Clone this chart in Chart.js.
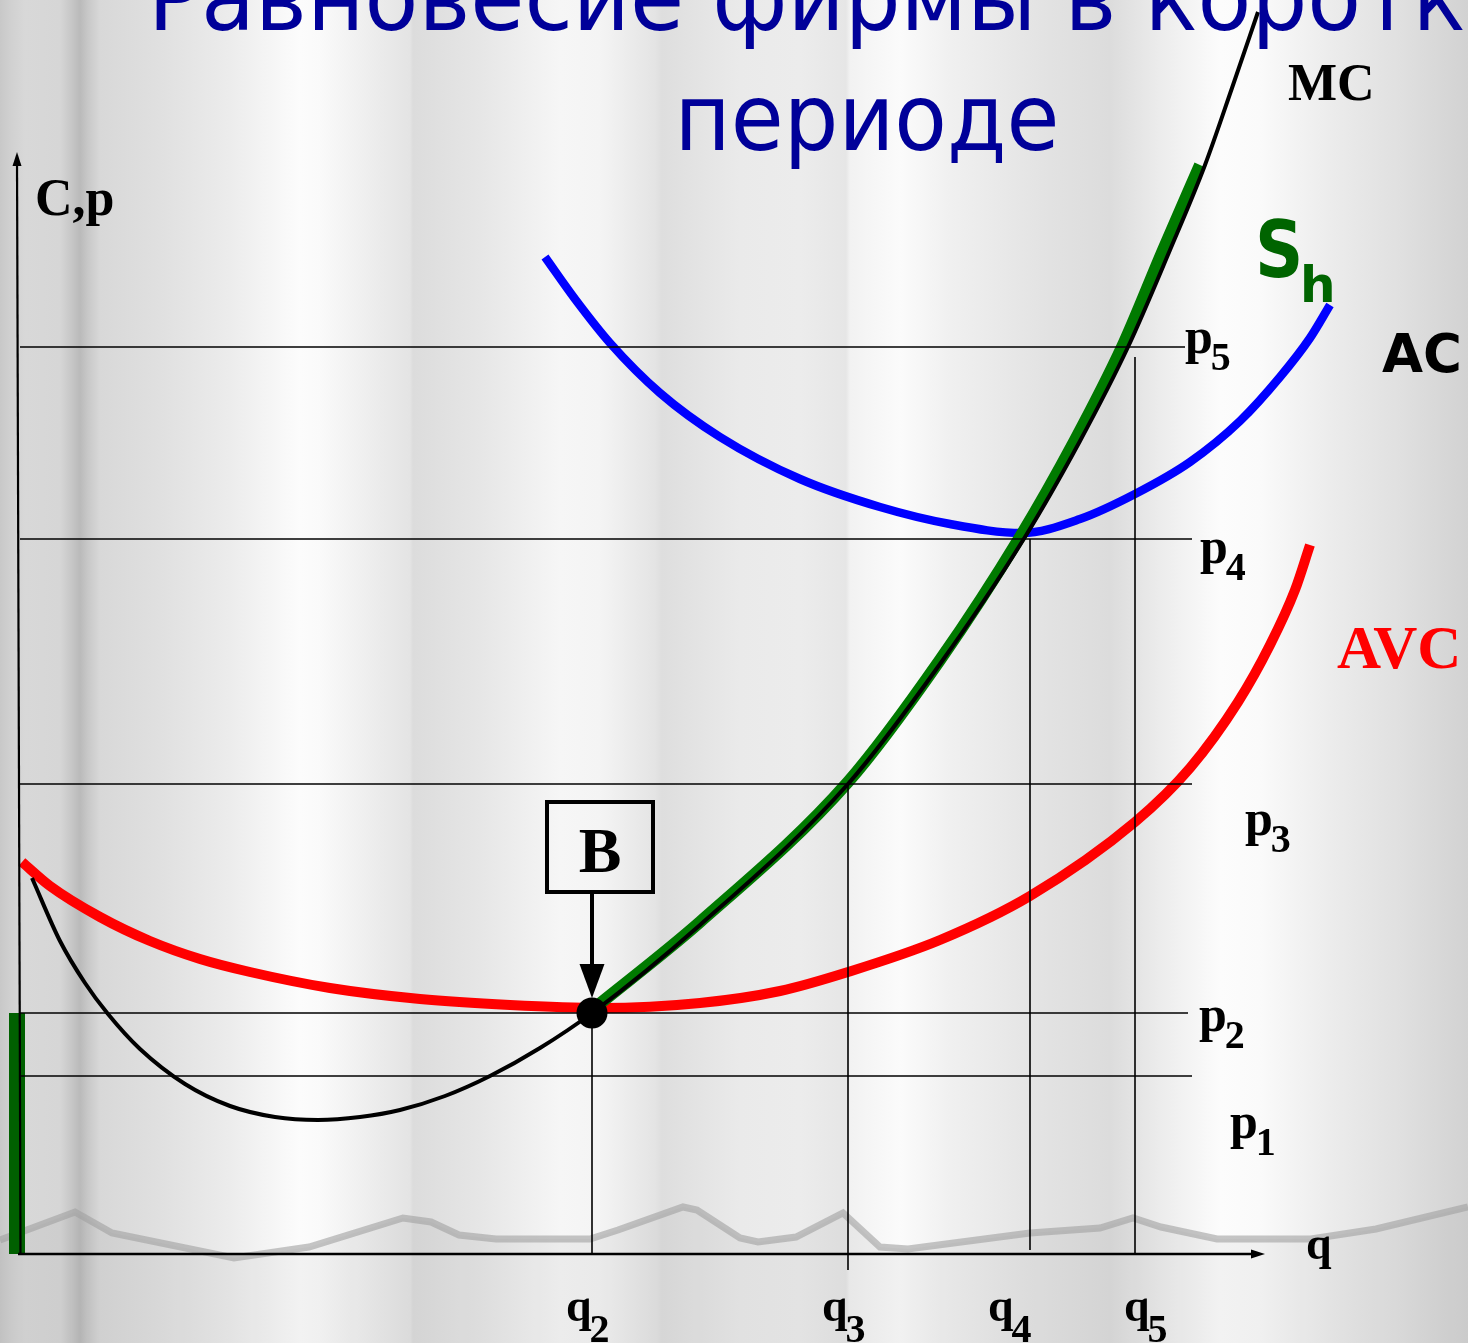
<!DOCTYPE html>
<html>
<head>
<meta charset="utf-8">
<script src="https://cdn.jsdelivr.net/npm/chart.js@4.4.1/dist/chart.umd.min.js"></script>
<style>
  html, body { margin: 0; padding: 0; overflow: hidden; background: #dcdcdc; }
  #wrap { width: 1468px; height: 1343px; position: relative; }
</style>
</head>
<body>
<div id="wrap"><canvas id="chart"></canvas></div>
<script>
// ---- Chart content --------------------------------------------------------
const titleLines = ['Равновесие фирмы в коротком', 'периоде'];

// Output levels q2..q5 and price levels p1..p5
const quantityLevels = [5.74, 8.30, 10.12, 11.17];
const quantitySubs = ['2', '3', '4', '5'];
const priceLevels = [1.78, 2.41, 4.70, 7.15, 9.07];
const priceSubs = ['1', '2', '3', '4', '5'];

// Marginal cost MC
const mcQ = [0.14, 0.42, 0.67, 0.90, 1.22, 1.67, 2.12, 2.57, 3.00, 3.42, 3.82, 4.27, 4.72, 5.22, 5.74, 6.82, 8.30, 9.22, 10.07, 10.62, 11.10, 11.52, 11.87, 12.14, 12.40];
const mcC = [3.76, 3.13, 2.71, 2.40, 2.05, 1.70, 1.48, 1.37, 1.34, 1.37, 1.44, 1.58, 1.78, 2.06, 2.41, 3.29, 4.70, 5.90, 7.17, 8.13, 9.07, 10.04, 10.89, 11.66, 12.42];

// Short-run supply Sh (MC above the AVC minimum)
const shQ = [5.74, 6.82, 8.30, 9.22, 10.02, 10.57, 11.04, 11.45, 11.82];
const shC = [2.44, 3.32, 4.72, 5.94, 7.17, 8.14, 9.07, 10.04, 10.89];

// Average variable cost AVC
const avcQ = [0.04, 0.32, 0.82, 1.32, 1.82, 2.32, 3.12, 4.02, 4.92, 5.82, 6.82, 7.62, 8.30, 9.22, 10.12, 11.17, 11.72, 12.20, 12.52, 12.77, 12.92];
const avcC = [3.92, 3.68, 3.37, 3.13, 2.95, 2.82, 2.66, 2.55, 2.49, 2.46, 2.51, 2.63, 2.82, 3.14, 3.58, 4.32, 4.86, 5.52, 6.09, 6.64, 7.09];

// Average total cost AC
const acQ = [5.27, 5.57, 5.92, 6.42, 7.02, 7.82, 8.62, 9.32, 10.04, 10.62, 11.17, 11.72, 12.22, 12.62, 12.92, 13.12];
const acC = [9.97, 9.55, 9.11, 8.61, 8.17, 7.75, 7.47, 7.30, 7.21, 7.35, 7.60, 7.92, 8.33, 8.77, 9.16, 9.49];

// Shutdown point B (minimum of AVC)
const pointBQ = [5.74];
const pointBC = [2.41];

// Decorative ground outline behind the axes
const groundQ = [-0.18, 0.57, 0.94, 2.16, 2.91, 3.85, 4.13, 4.41, 4.78, 5.72, 6.00, 6.65, 6.79, 7.22, 7.40, 7.78, 8.25, 8.62, 8.90, 10.12, 10.82, 11.15, 11.43, 11.99, 12.93, 13.58, 14.50];
const groundC = [0.14, 0.42, 0.21, -0.04, 0.07, 0.36, 0.32, 0.19, 0.15, 0.15, 0.24, 0.47, 0.44, 0.16, 0.12, 0.17, 0.41, 0.07, 0.05, 0.21, 0.26, 0.36, 0.27, 0.15, 0.15, 0.25, 0.47];

// ---- Helpers --------------------------------------------------------------
const pts = (xs, ys) => xs.map((x, i) => ({ x: x, y: ys[i] }));
const SERIF = '"Liberation Serif", "Times New Roman", serif';
const SANS = '"DejaVu Sans", Verdana, sans-serif';

const lineEnds = [11.74, 11.70, 11.74, 11.74, 11.67];
const priceLines = priceLevels.map((p, i) => ({
  data: [{ x: 0.02, y: p }, { x: lineEnds[i], y: p }],
  borderColor: '#000', borderWidth: 1.6, order: 4
}));
const vBottoms = [0, -0.16, 0.04, 0];
const vTops = [priceLevels[1], priceLevels[2], priceLevels[3], priceLevels[4] - 0.10];
const quantityLines = quantityLevels.map((q, i) => ({
  data: [{ x: q, y: vBottoms[i] }, { x: q, y: vTops[i] }],
  borderColor: '#000', borderWidth: 1.6, order: 4
}));

const datasets = [
  { data: pts(groundQ, groundC), borderColor: 'rgba(160,160,160,0.6)', borderWidth: 7,
    backgroundColor: 'rgba(110,110,110,0.07)', fill: 'start', tension: 0, order: 10 },
  { data: pts(acQ, acC), borderColor: '#0000ff', borderWidth: 8.5, cubicInterpolationMode: 'monotone', order: 8 },
  { data: pts(avcQ, avcC), borderColor: '#ff0000', borderWidth: 10, cubicInterpolationMode: 'monotone', order: 7 },
  { data: [{ x: -0.01, y: 0 }, { x: -0.01, y: priceLevels[1] }], borderColor: '#006000', borderWidth: 16, borderCapStyle: 'butt', order: 7 },
  { data: pts(shQ, shC), borderColor: '#007a00', borderWidth: 12, cubicInterpolationMode: 'monotone', order: 6 },
  { data: pts(mcQ, mcC), borderColor: '#000', borderWidth: 4, cubicInterpolationMode: 'monotone', order: 5 },
  ...priceLines,
  ...quantityLines,
  // axes
  { data: [{ x: 0.025, y: 0 }, { x: -0.01, y: 10.95 }], borderColor: '#000', borderWidth: 2.2, order: 4 },
  { data: [{ x: 0, y: 0 }, { x: 12.38, y: 0 }], borderColor: '#000', borderWidth: 2.6, order: 4 },
  { data: pts(pointBQ, pointBC), showLine: false, pointRadius: 15.5, pointBackgroundColor: '#000',
    pointBorderColor: '#000', pointBorderWidth: 0, order: 1 }
].map(d => Object.assign({ showLine: true, pointRadius: 0, fill: false, clip: false }, d));

// ---- Drawing of background, arrows, box and labels -----------------------
const decor = {
  id: 'decor',
  beforeDraw(chart) {
    const ctx = chart.ctx, W = chart.width, H = chart.height;
    const g = ctx.createLinearGradient(0, 0, W, 0);
    const stops = [
      [0, '#c8c8c8'], [10, '#d0d0d0'], [25, '#d8d8d8'], [60, '#d6d6d6'], [72, '#c6c6c6'], [80, '#bababa'],
      [88, '#c8c8c8'], [100, '#d8d8d8'], [160, '#e0e0e0'], [230, '#ececec'], [300, '#fcfcfc'], [320, '#fafafa'],
      [380, '#ebebeb'], [410, '#e4e4e4'], [413, '#dcdcdc'], [480, '#e6e6e6'], [560, '#f6f6f6'], [600, '#f4f4f4'],
      [655, '#e4e4e4'], [662, '#dedede'], [740, '#eaeaea'], [800, '#ececec'], [846, '#e6e6e6'], [850, '#f2f2f2'],
      [900, '#fbfbfb'], [950, '#f0f0f0'], [1050, '#e2e2e2'], [1110, '#dcdcdc'], [1160, '#ececec'], [1220, '#fcfcfc'],
      [1260, '#fafafa'], [1330, '#ececec'], [1400, '#e0e0e0'], [1468, '#d2d2d2']
    ];
    stops.forEach(s => g.addColorStop(s[0] / 1468, s[1]));
    ctx.save();
    ctx.fillStyle = g;
    ctx.fillRect(0, 0, W, H);
    ctx.restore();
  },
  afterDatasetsDraw(chart) {
    const ctx = chart.ctx;
    const X = v => chart.scales.x.getPixelForValue(v);
    const Y = v => chart.scales.y.getPixelForValue(v);
    ctx.save();
    ctx.fillStyle = '#000';

    // axis arrowheads
    const tri = (a, b, c) => { ctx.beginPath(); ctx.moveTo(a[0], a[1]); ctx.lineTo(b[0], b[1]); ctx.lineTo(c[0], c[1]); ctx.closePath(); ctx.fill(); };
    const yTipX = X(-0.01), yTipY = Y(11.02);
    tri([yTipX, yTipY], [yTipX - 4.5, yTipY + 14], [yTipX + 4.5, yTipY + 14]);
    const xTipX = X(12.47), xTipY = Y(0);
    tri([xTipX, xTipY], [xTipX - 14, xTipY - 4.5], [xTipX - 14, xTipY + 4.5]);

    // box "B" with arrow pointing to the shutdown point
    const bx = X(pointBQ[0]), by = Y(pointBC[0]);
    ctx.strokeStyle = '#000';
    ctx.lineWidth = 4;
    ctx.strokeRect(bx - 45, by - 211, 106, 90);
    ctx.fillRect(bx - 2, by - 120, 4, 74);
    tri([bx, by - 15], [bx - 12.5, by - 49], [bx + 12.5, by - 49]);
    ctx.font = 'bold 64px ' + SERIF;
    ctx.textAlign = 'center';
    ctx.fillText('B', bx + 8, by - 141);
    ctx.textAlign = 'left';

    // text with subscript
    const sub = (main, s, x, y, size, subSize, dy) => {
      ctx.font = 'bold ' + size + 'px ' + SERIF;
      ctx.fillText(main, x, y);
      const w = ctx.measureText(main).width;
      ctx.font = 'bold ' + subSize + 'px ' + SERIF;
      ctx.fillText(s, x + w - 2, y + dy);
    };
    const pAnchors = [[12.12, 1.16], [11.81, 2.23], [12.27, 4.19], [11.82, 6.91], [11.67, 9.01]];
    priceSubs.forEach((s, i) => sub('p', s, X(pAnchors[i][0]), Y(pAnchors[i][1]), 50, 40, 17));
    const qAnchorX = [5.48, 8.04, 9.70, 11.06];
    quantitySubs.forEach((s, i) => sub('q', s, X(qAnchorX[i]), Y(-0.67), 46, 40, 21));

    ctx.font = 'bold 46px ' + SERIF;
    ctx.fillText('q', X(12.88), Y(-0.05));
    ctx.font = 'bold 52px ' + SERIF;
    ctx.fillText('C,p', X(0.17), Y(10.39));
    ctx.fillText('MC', X(12.70), Y(11.54));
    ctx.font = 'bold 53px ' + SANS;
    ctx.fillText('AC', X(13.64), Y(8.82));
    ctx.fillStyle = '#ff0000';
    ctx.font = 'bold 61px ' + SERIF;
    ctx.fillText('AVC', X(13.19), Y(5.86));
    ctx.fillStyle = '#006400';
    ctx.save();
    ctx.translate(X(12.37), Y(9.77));
    ctx.scale(0.86, 1);
    ctx.font = 'bold 78px ' + SANS;
    ctx.fillText('S', 0, 0);
    ctx.restore();
    ctx.font = 'bold 50px ' + SANS;
    ctx.fillText('h', X(12.82), Y(9.52));

    // title, two centred lines
    ctx.fillStyle = '#000099';
    ctx.font = '92px ' + SANS;
    ctx.textAlign = 'center';
    const widths = [1438, 385];
    titleLines.forEach((line, i) => {
      const s = widths[i] / ctx.measureText(line).width;
      ctx.save();
      ctx.translate(867, i === 0 ? 30 : 150);
      ctx.scale(s, 1);
      ctx.fillText(line, 0, 0);
      ctx.restore();
    });
    ctx.restore();
  }
};

Chart.defaults.devicePixelRatio = 1;
new Chart(document.getElementById('chart'), {
  type: 'scatter',
  data: { datasets: datasets },
  options: {
    responsive: true,
    maintainAspectRatio: false,
    animation: false,
    events: [],
    layout: { padding: 0, autoPadding: false },
    plugins: { legend: { display: false }, tooltip: { enabled: false }, title: { display: false } },
    scales: {
      x: { type: 'linear', min: -0.18, max: 14.50, display: false },
      y: { type: 'linear', min: -0.89, max: 12.54, display: false }
    }
  },
  plugins: [decor]
});
</script>
</body>
</html>
